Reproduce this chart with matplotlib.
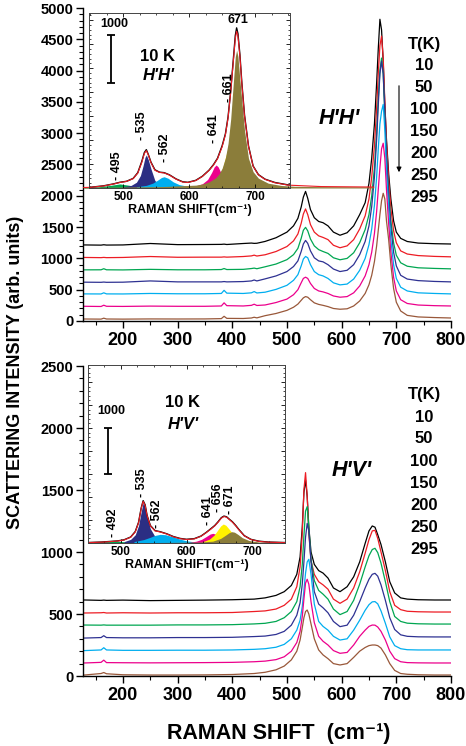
import matplotlib
matplotlib.use("Agg")
import matplotlib.pyplot as plt
from matplotlib.ticker import MultipleLocator

plt.rcParams['font.family'] = ['Liberation Sans', 'DejaVu Sans']
plt.rcParams['font.weight'] = 'bold'
plt.rcParams['axes.labelweight'] = 'bold'

W, H = 466, 746

temps = ["10", "50", "100", "150", "200", "250", "295"]
line_colors = ["#000000", "#ed1c24", "#00a651", "#2e3192", "#00aeef", "#ec008c", "#99583a"]

# ---- H'H' spectra (top panel), values as offset in the figure ----
shift_hh = [130, 160, 165, 170, 200, 250, 300, 350, 380, 385, 390, 420, 435, 440, 445,
            460, 480, 500, 512, 520, 526, 530, 534, 538, 543, 550, 558, 566, 575, 585,
            597, 610, 622, 633, 643, 650, 655, 660, 664, 667, 670, 673, 676, 679, 682,
            686, 690, 695, 700, 708, 720, 740, 770, 800]
hh_10 = [1215, 1212, 1218, 1213, 1215, 1238, 1220, 1222, 1224, 1228, 1222, 1238, 1245, 1240, 1242,
         1271, 1330, 1420, 1520, 1640, 1820, 1980, 2070, 1960, 1780, 1650, 1590, 1570, 1520, 1420,
         1370, 1410, 1520, 1700, 1890, 2200, 2600, 3150, 3800, 4350, 4820, 4650, 4150, 3450, 2900,
         2350, 1950, 1600, 1420, 1320, 1270, 1245, 1235, 1230]
hh_50 = [1015, 1012, 1016, 1012, 1015, 1030, 1018, 1020, 1020, 1024, 1020, 1030, 1040, 1052, 1038,
         1058, 1110, 1190, 1280, 1390, 1560, 1710, 1790, 1700, 1540, 1420, 1360, 1335, 1300, 1210,
         1170, 1200, 1300, 1470, 1680, 1950, 2300, 2800, 3400, 3950, 4400, 4550, 4200, 3500, 2850,
         2250, 1800, 1440, 1250, 1120, 1070, 1045, 1032, 1025]
hh_100 = [817, 818, 835, 818, 816, 825, 818, 818, 822, 838, 822, 825, 838, 845, 835,
          866, 910, 980, 1060, 1160, 1320, 1450, 1496, 1440, 1310, 1200, 1140, 1110, 1080, 1010,
          978, 1000, 1090, 1250, 1460, 1700, 2000, 2450, 3000, 3550, 4000, 4200, 3950, 3300, 2650,
          2050, 1600, 1250, 1050, 930, 875, 850, 840, 833]
hh_150 = [620, 618, 622, 618, 620, 640, 625, 625, 625, 630, 625, 630, 640, 655, 640,
          673, 720, 790, 870, 960, 1110, 1230, 1287, 1240, 1120, 1010, 960, 945, 900, 830,
          790, 810, 900, 1060, 1270, 1520, 1830, 2300, 2900, 3450, 3950, 4150, 3950, 3350, 2650,
          2000, 1500, 1100, 880, 730, 670, 645, 632, 625]
hh_200 = [433, 432, 450, 433, 432, 440, 435, 435, 440, 490, 445, 440, 450, 470, 448,
          460, 505, 570, 650, 740, 880, 990, 1031, 1010, 900, 790, 740, 720, 680, 610,
          577, 590, 670, 810, 1000, 1220, 1470, 1850, 2300, 2750, 3150, 3350, 3460, 3050, 2400,
          1800, 1300, 900, 680, 540, 480, 450, 440, 433]
hh_250 = [235, 232, 252, 235, 233, 238, 235, 235, 240, 290, 245, 240, 250, 268, 248,
          256, 295, 350, 420, 500, 610, 680, 700, 680, 600, 520, 480, 465, 440, 400,
          380, 390, 450, 560, 720, 900, 1100, 1400, 1750, 2100, 2450, 2750, 2840, 2600, 2100,
          1550, 1100, 700, 480, 340, 280, 255, 245, 240]
hh_295 = [32, 30, 45, 32, 30, 33, 32, 33, 38, 75, 42, 40, 48, 60, 50,
          85, 120, 170, 220, 270, 330, 370, 390, 380, 340, 290, 265, 250, 230, 200,
          188, 195, 240, 320, 440, 580, 730, 950, 1200, 1450, 1700, 1920, 2040, 1950, 1600,
          1300, 900, 520, 300, 160, 90, 65, 55, 48]
hh_all = [hh_10, hh_50, hh_100, hh_150, hh_200, hh_250, hh_295]

# ---- H'V' spectra (bottom panel) ----
shift_hv = [130, 160, 165, 170, 200, 250, 300, 350, 400, 440, 460, 480, 495, 508, 518,
            524, 528, 531, 534, 537, 540, 544, 550, 558, 566, 575, 585, 597, 610, 622,
            633, 643, 650, 656, 661, 666, 672, 680, 688, 697, 708, 720, 740, 770, 800]
hv_10 = [613, 610, 612, 610, 612, 608, 610, 612, 615, 620, 630, 650, 680, 730, 820,
         960, 1200, 1480, 1580, 1450, 1200, 1000, 900, 850, 830, 790, 710, 680, 720, 800,
         920, 1070, 1170, 1210, 1200, 1140, 1060, 920, 760, 670, 630, 620, 615, 613, 613]
hv_50 = [508, 510, 512, 508, 510, 508, 510, 510, 512, 520, 525, 540, 570, 620, 720,
         880, 1150, 1500, 1640, 1450, 1150, 930, 820, 760, 735, 700, 620, 586, 620, 710,
         840, 990, 1100, 1170, 1175, 1110, 1000, 850, 680, 570, 535, 522, 518, 516, 516]
hv_100 = [411, 410, 412, 410, 410, 410, 412, 412, 414, 420, 425, 440, 470, 520, 600,
          720, 900, 1130, 1330, 1366, 1200, 940, 770, 690, 660, 620, 540, 495, 520, 610,
          740, 880, 970, 1020, 1030, 995, 910, 760, 600, 480, 440, 426, 421, 419, 419]
hv_150 = [306, 310, 325, 310, 308, 308, 310, 310, 312, 318, 322, 335, 360, 410, 490,
          590, 740, 920, 1120, 1231, 1170, 920, 680, 580, 550, 510, 440, 398, 410, 490,
          600, 710, 780, 820, 828, 805, 735, 610, 470, 375, 332, 320, 316, 315, 315]
hv_200 = [205, 210, 228, 210, 207, 207, 208, 208, 210, 215, 220, 232, 255, 300, 370,
          450, 560, 690, 830, 920, 941, 820, 580, 440, 400, 370, 320, 290, 300, 370,
          450, 530, 575, 598, 600, 582, 525, 425, 315, 245, 220, 212, 210, 210, 210]
hv_250 = [105, 110, 128, 108, 107, 106, 107, 108, 110, 115, 120, 132, 155, 200, 270,
          360, 480, 620, 750, 780, 740, 600, 430, 320, 280, 250, 205, 183, 190, 250,
          320, 370, 400, 411, 410, 395, 360, 290, 200, 140, 115, 108, 106, 105, 105]
hv_295 = [8, 20, 28, 18, 10, 8, 8, 9, 12, 20, 30, 50, 80, 130, 200,
          290, 390, 470, 520, 532, 500, 420, 300, 210, 170, 140, 100, 89, 100, 150,
          200, 230, 245, 250, 250, 245, 225, 170, 100, 45, 20, 14, 10, 8, 8]
hv_all = [hv_10, hv_50, hv_100, hv_150, hv_200, hv_250, hv_295]

# ---- 10 K fit, H'H' inset ----
fit_hh_x = [440, 450, 470, 485, 495, 505, 515, 522, 528, 532, 535, 538, 542, 548, 555,
            562, 570, 580, 590, 598, 610, 620, 630, 637, 643, 650, 655, 659, 663, 667,
            670, 672, 674, 677, 680, 684, 690, 697, 705, 715, 730, 750, 800, 880]
fit_hh_data = [12, 15, 45, 85, 120, 140, 200, 320, 550, 740, 800, 700, 540, 380, 330,
               320, 275, 190, 130, 118, 160, 245, 370, 490, 620, 880, 1130, 1480, 2020, 2680,
               3180, 3340, 3220, 2780, 2180, 1520, 880, 460, 280, 185, 115, 65, 35, 25]
fit_hh_sum = [10, 14, 42, 82, 115, 138, 195, 310, 530, 720, 780, 690, 530, 370, 325,
              315, 270, 185, 125, 115, 155, 240, 365, 480, 610, 860, 1110, 1460, 2000, 2640,
              3120, 3270, 3170, 2750, 2160, 1500, 870, 455, 275, 180, 110, 60, 30, 20]
hh_p495_x = [440, 460, 480, 495, 510, 525, 545]
hh_p495_y = [10, 21, 54, 85, 54, 26, 12]
hh_p535_x = [500, 512, 520, 526, 530, 533, 535, 538, 542, 548, 555, 565]
hh_p535_y = [25, 55, 120, 260, 460, 640, 690, 590, 400, 155, 75, 32]
hh_p562_x = [520, 535, 545, 552, 558, 562, 568, 576, 585, 600, 615]
hh_p562_y = [27, 55, 103, 163, 219, 235, 203, 126, 70, 32, 17]
hh_p641_x = [595, 610, 620, 628, 634, 638, 641, 644, 648, 655, 665]
hh_p641_y = [22, 45, 89, 178, 322, 440, 480, 440, 322, 162, 71]
hh_p661_x = [625, 637, 645, 651, 655, 658, 661, 664, 668, 675, 685, 700]
hh_p661_y = [55, 115, 230, 420, 640, 780, 790, 680, 470, 230, 100, 40]
hh_p671_x = [440, 500, 560, 610, 620, 630, 640, 645, 650, 655, 659, 663, 667, 670,
             672, 674, 677, 680, 684, 690, 697, 705, 720, 740, 760, 800, 880]
hh_p671_y = [15, 20, 30, 60, 83, 126, 211, 287, 412, 630, 930, 1437, 2195, 2740,
             2875, 2740, 2250, 1800, 1200, 620, 340, 205, 100, 52, 35, 28, 25]

# ---- 10 K fit, H'V' inset ----
fit_hv_x = [450, 470, 485, 495, 505, 515, 522, 527, 531, 534, 537, 540, 545, 552, 560,
            570, 580, 590, 600, 612, 622, 630, 637, 643, 648, 653, 657, 661, 665, 670,
            675, 680, 688, 698, 710, 725, 750]
fit_hv_data = [10, 20, 35, 45, 70, 130, 250, 450, 760, 920, 830, 600, 380, 270, 245,
               200, 140, 100, 80, 95, 150, 230, 310, 380, 460, 550, 585, 570, 520, 460,
               380, 290, 160, 80, 40, 20, 10]
fit_hv_sum = [8, 18, 32, 42, 66, 125, 240, 440, 750, 905, 815, 590, 372, 265, 240,
              195, 135, 95, 76, 90, 145, 225, 300, 372, 450, 540, 575, 562, 512, 452,
              372, 282, 155, 76, 36, 17, 8]
hv_p492_x = [450, 470, 485, 492, 500, 515, 530]
hv_p492_y = [10, 20, 32, 36, 32, 18, 8]
hv_p535_x = [505, 515, 522, 527, 531, 534, 537, 540, 545, 552, 560, 570]
hv_p535_y = [30, 80, 180, 380, 680, 880, 790, 560, 310, 140, 65, 30]
hv_p562_x = [520, 535, 545, 552, 560, 568, 578, 590, 600, 615]
hv_p562_y = [30, 75, 125, 165, 188, 180, 140, 85, 48, 18]
hv_p641_x = [605, 615, 623, 630, 636, 640, 644, 650, 658, 668]
hv_p641_y = [15, 40, 80, 140, 195, 210, 195, 140, 70, 25]
hv_p656_x = [625, 635, 642, 648, 652, 656, 660, 665, 672, 680, 690, 700]
hv_p656_y = [30, 85, 170, 290, 370, 413, 385, 300, 170, 80, 30, 12]
hv_p671_x = [450, 550, 620, 640, 652, 660, 665, 669, 673, 678, 685, 695, 710, 730, 750]
hv_p671_y = [6, 10, 20, 40, 100, 175, 225, 246, 235, 190, 115, 55, 22, 10, 6]

comp_colors = ["#00a651", "#2b2e83", "#00aeef", "#ec008c", "#fff200", "#8b7d3a"]


def box(l, t, r, b):
    return [l / W, 1 - b / H, (r - l) / W, (b - t) / H]


def fxy(x, y):
    return x / W, 1 - y / H


def style_main(ax, ymax):
    ax.set_xlim(127, 800)
    ax.set_ylim(0, ymax)
    ax.spines['top'].set_visible(False)
    ax.spines['right'].set_visible(False)
    for s in ['left', 'bottom']:
        ax.spines[s].set_linewidth(1.0)
    ax.xaxis.set_major_locator(MultipleLocator(100))
    ax.xaxis.set_minor_locator(MultipleLocator(50))
    ax.yaxis.set_major_locator(MultipleLocator(500))
    ax.yaxis.set_minor_locator(MultipleLocator(100))
    ax.tick_params(which='major', direction='out', length=5, width=1)
    ax.tick_params(which='minor', direction='out', length=3, width=0.8)
    ax.tick_params(axis='x', labelsize=13, pad=3)
    ax.tick_params(axis='y', labelsize=10.5, pad=2)


def style_inset(ins, xlim, ylim):
    ins.set_xlim(*xlim)
    ins.set_ylim(*ylim)
    ins.xaxis.set_major_locator(MultipleLocator(100))
    ins.xaxis.set_minor_locator(MultipleLocator(25))
    ins.yaxis.set_major_locator(MultipleLocator(500))
    ins.yaxis.set_minor_locator(MultipleLocator(100))
    ins.tick_params(which='both', direction='in', top=True, right=True,
                    labelleft=False, labelsize=8.5, pad=2)
    ins.tick_params(which='major', length=3, width=0.6)
    ins.tick_params(which='minor', length=1.5, width=0.5)
    for lab in ins.get_xticklabels():
        lab.set_fontweight('bold')
    for s in ins.spines.values():
        s.set_linewidth(0.7)
        s.set_color('#444444')
    ins.set_xlabel('RAMAN SHIFT(cm⁻¹)', fontsize=9, fontweight='bold', labelpad=1)


fig = plt.figure(figsize=(W / 100, H / 100), dpi=100)

# top panel
ax1 = fig.add_axes(box(83, 8, 451, 321))
for y, c in zip(hh_all, line_colors):
    ax1.plot(shift_hh, y, color=c, lw=0.9)
style_main(ax1, 5000)

# bottom panel
ax2 = fig.add_axes(box(83, 366, 451, 676))
for y, c in zip(hv_all, line_colors):
    ax2.plot(shift_hv, y, color=c, lw=0.9)
style_main(ax2, 2500)

# inset H'H'
ins1 = fig.add_axes(box(89, 13, 290, 188))
hh_comps = [(hh_p495_x, hh_p495_y), (hh_p535_x, hh_p535_y), (hh_p562_x, hh_p562_y),
            (hh_p641_x, hh_p641_y), (hh_p661_x, hh_p661_y), (hh_p671_x, hh_p671_y)]
for (cx, cy), col in zip(hh_comps, comp_colors):
    ins1.fill_between(cx, 0, cy, color=col, lw=0, clip_on=False)
ins1.plot(fit_hh_x, fit_hh_data, color='k', lw=1.0)
ins1.plot(fit_hh_x, fit_hh_sum, color='#ed1c24', lw=0.8, clip_on=False)
style_inset(ins1, (448, 753), (0, 3650))
ins1.errorbar([482], [2687], yerr=[500], color='k', lw=1.3, capsize=3, capthick=1.3)
ins1.text(486, 3417, '1000', fontsize=9, ha='center', va='center')
ins1.text(0.343, 0.754, '10 K', transform=ins1.transAxes, fontsize=12, ha='center', va='center')
ins1.text(0.348, 0.64, "H'H'", transform=ins1.transAxes, fontsize=12, style='italic',
          ha='center', va='center')
for x, y, s in [(490, 167, '- 495'), (528, 1000, '- 535'), (563, 542, '- 562'),
                (637, 937, '- 641'), (660, 1792, '- 661')]:
    ins1.text(x, y, s, rotation=90, fontsize=9, ha='center', va='bottom')
ins1.text(674, 3380, '671', fontsize=9, ha='center', va='bottom')

# inset H'V'
ins2 = fig.add_axes(box(88, 365, 285, 543))
hv_comps = [(hv_p492_x, hv_p492_y), (hv_p535_x, hv_p535_y), (hv_p562_x, hv_p562_y),
            (hv_p641_x, hv_p641_y), (hv_p656_x, hv_p656_y), (hv_p671_x, hv_p671_y)]
for (cx, cy), col in zip(hv_comps, comp_colors):
    ins2.fill_between(cx, 0, cy, color=col, lw=0)
ins2.plot(fit_hv_x, fit_hv_data, color='k', lw=1.0)
ins2.plot(fit_hv_x, fit_hv_sum, color='#ed1c24', lw=0.8)
style_inset(ins2, (450, 750), (0, 3870))
ins2.errorbar([480], [2000], yerr=[500], color='k', lw=1.3, capsize=3, capthick=1.3)
ins2.text(485, 2870, '1000', fontsize=9, ha='center', va='center')
ins2.text(0.482, 0.787, '10 K', transform=ins2.transAxes, fontsize=12, ha='center', va='center')
ins2.text(0.482, 0.663, "H'V'", transform=ins2.transAxes, fontsize=12, style='italic',
          ha='center', va='center')
for x, y, s in [(488, 137, '- 492'), (532, 1006, '- 535'), (555, 320, '- 562'),
                (633, 391, '- 641'), (648, 681, '- 656'), (666, 640, '- 671')]:
    ins2.text(x, y, s, rotation=90, fontsize=9, ha='center', va='bottom')

# panel labels, temperature lists and arrows
fig.text(*fxy(339, 118), "H'H'", fontsize=15.5, style='italic', ha='center', va='center')
fig.text(*fxy(352, 470), "H'V'", fontsize=15.5, style='italic', ha='center', va='center')

for top, arrow_x, arrow_y in [(44, 399, (83, 175)), (395, 393, (419, 509))]:
    fig.text(*fxy(424, top), 'T(K)', fontsize=12, ha='center', va='center')
    for i, t in enumerate(temps):
        fig.text(*fxy(424, top + 22 * (i + 1)), t, fontsize=12, ha='center', va='center')
    ax1.annotate('', xy=fxy(arrow_x, arrow_y[1]), xytext=fxy(arrow_x, arrow_y[0]),
                 xycoords='figure fraction', textcoords='figure fraction',
                 arrowprops=dict(arrowstyle='-|>', color='k', lw=0.8, mutation_scale=7))

fig.text(*fxy(16, 372), 'SCATTERING INTENSITY (arb. units)', rotation=90,
         fontsize=13, ha='center', va='center')
fig.text(*fxy(279, 733), 'RAMAN SHIFT  (cm⁻¹)', fontsize=15.5, ha='center', va='center')

fig.savefig('out.png', dpi=100)
